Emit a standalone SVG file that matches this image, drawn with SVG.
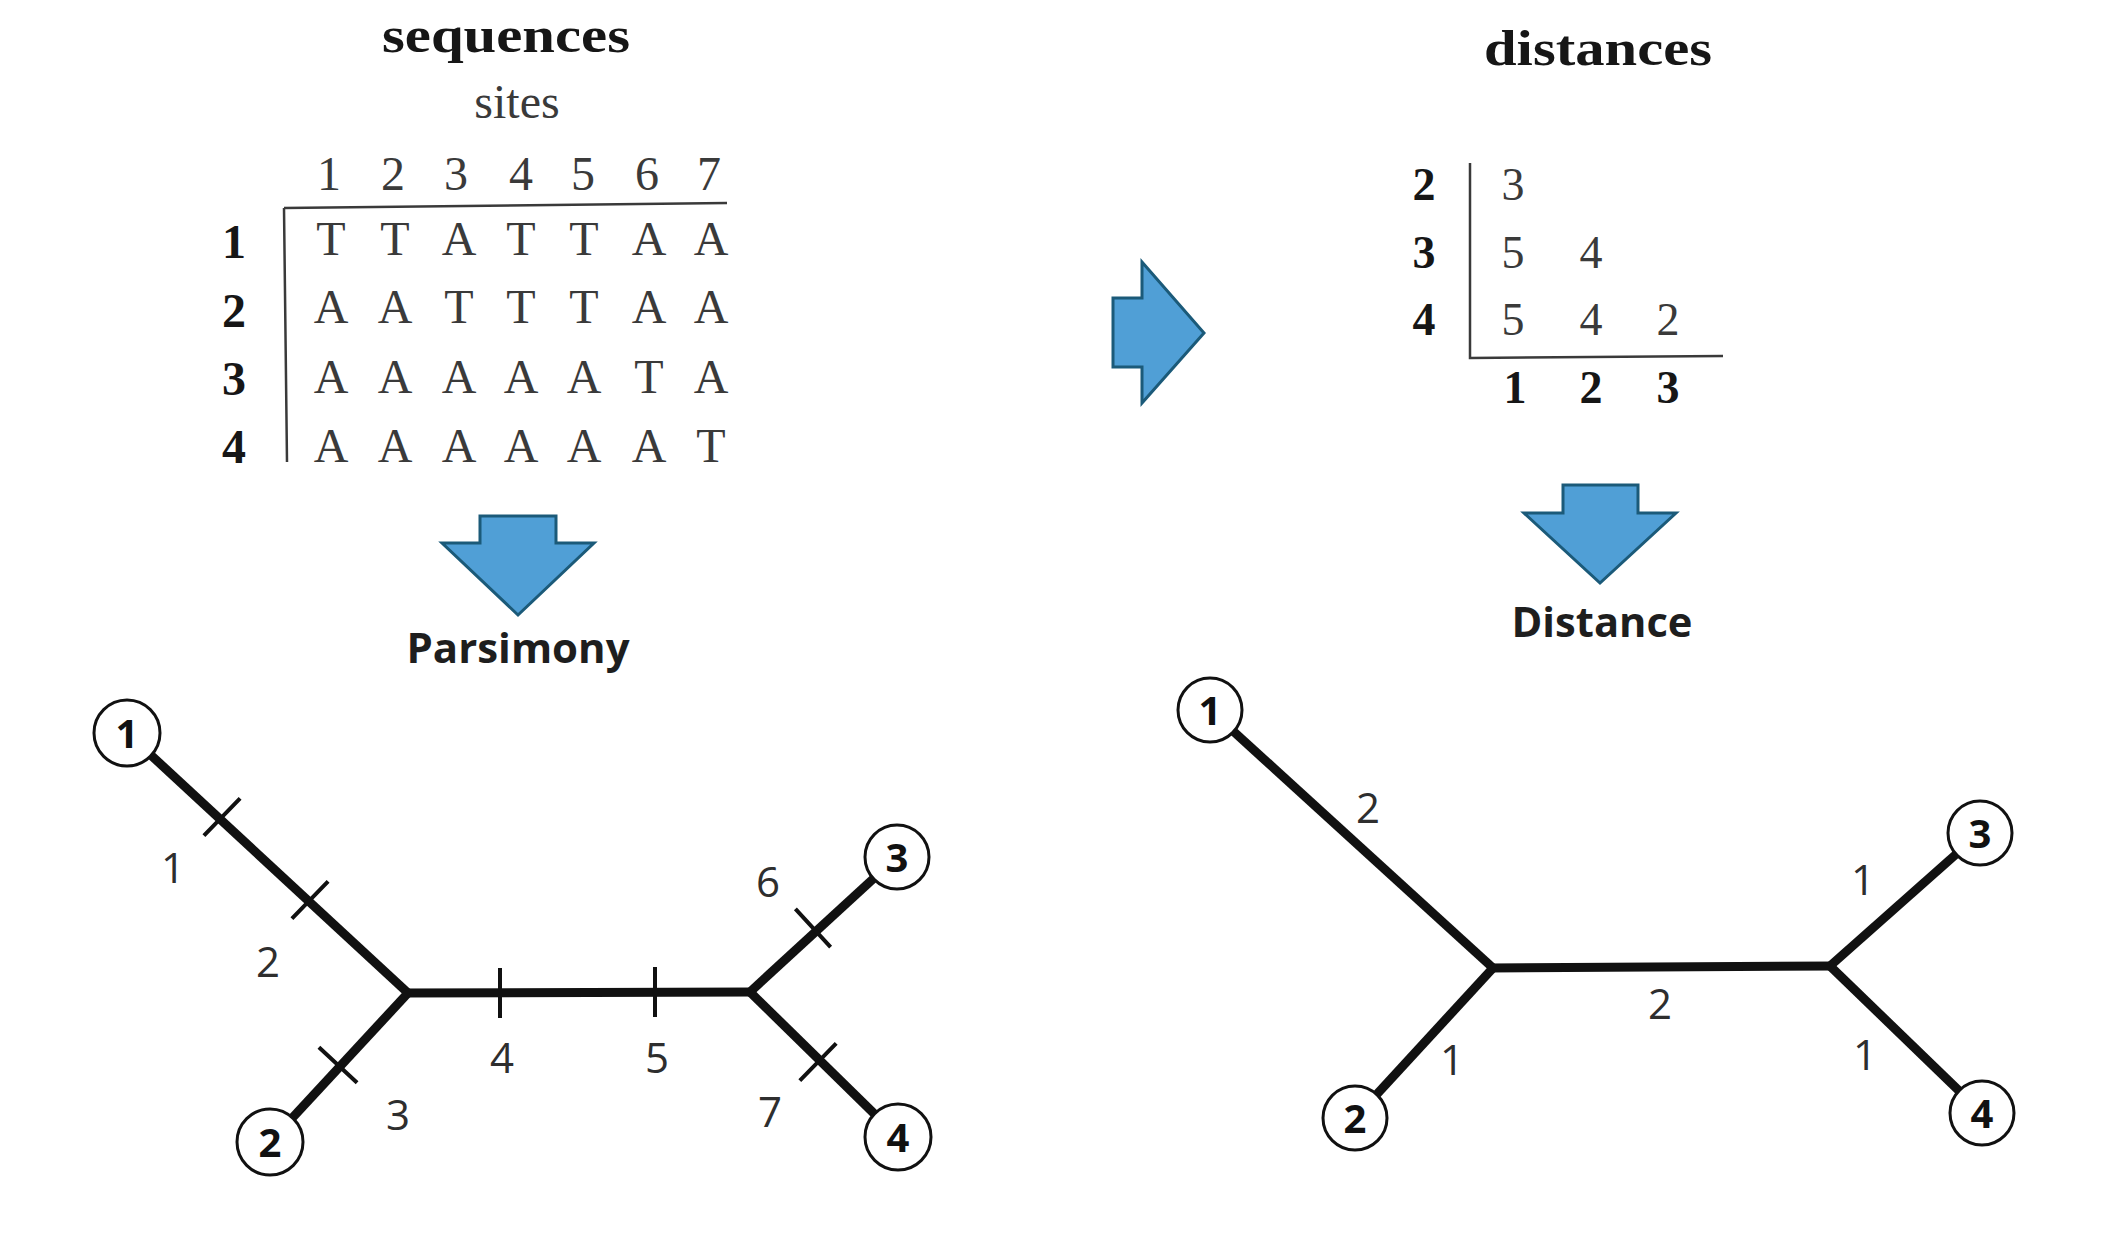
<svg xmlns="http://www.w3.org/2000/svg" width="2126" height="1237" viewBox="0 0 2126 1237">
<style>
.ser{font-family:"Liberation Serif","Times New Roman",serif;fill:#3a3a3a;text-anchor:middle}
.serb{font-family:"Liberation Serif","Times New Roman",serif;font-weight:bold;fill:#161616;text-anchor:middle}
.big{font-size:50px}
.tb{font-size:48px}
.dm{font-size:46px}
.lbl{font-family:"Open Sans","DejaVu Sans",sans-serif;font-size:42px;fill:#2e2e2e;text-anchor:middle}
.cap{font-family:"Open Sans","DejaVu Sans",sans-serif;font-weight:bold;font-size:42px;fill:#1e1e1e;text-anchor:middle}
.nd{font-family:"Open Sans","DejaVu Sans",sans-serif;font-weight:bold;font-size:40px;fill:#111;text-anchor:middle}
.rule{stroke:#3a3a3a;stroke-width:2.5;fill:none}
.arr{fill:#509fd6;stroke:#1b5a79;stroke-width:3;stroke-linejoin:miter}
.br{stroke:#111;stroke-width:9;fill:none;stroke-linecap:butt}
.tk{stroke:#111;stroke-width:4;fill:none}
.circ{fill:#fff;stroke:#111;stroke-width:3}
</style>
<rect width="2126" height="1237" fill="#fff"/>

<g id="sequences-table">
<text class="serb big" x="506" y="52" textLength="248" lengthAdjust="spacingAndGlyphs">sequences</text>
<text class="ser tb" x="517" y="118" fill="#444">sites</text>
<g class="ser tb">
<text x="329" y="190">1</text><text x="393" y="190">2</text><text x="456" y="190">3</text><text x="521" y="190">4</text><text x="583" y="190">5</text><text x="647" y="190">6</text><text x="709" y="190">7</text>
</g>
<path class="rule" d="M284 208 L727 203 M284 208 L287 462"/>
<g class="serb tb">
<text x="234" y="258">1</text><text x="234" y="327">2</text><text x="234" y="395">3</text><text x="234" y="463">4</text>
</g>
<g class="ser tb">
<text x="331" y="255">T</text><text x="395" y="255">T</text><text x="459" y="255">A</text><text x="521" y="255">T</text><text x="584" y="255">T</text><text x="649" y="255">A</text><text x="711" y="255">A</text>
<text x="331" y="323">A</text><text x="395" y="323">A</text><text x="459" y="323">T</text><text x="521" y="323">T</text><text x="584" y="323">T</text><text x="649" y="323">A</text><text x="711" y="323">A</text>
<text x="331" y="393">A</text><text x="395" y="393">A</text><text x="459" y="393">A</text><text x="521" y="393">A</text><text x="584" y="393">A</text><text x="649" y="393">T</text><text x="711" y="393">A</text>
<text x="331" y="462">A</text><text x="395" y="462">A</text><text x="459" y="462">A</text><text x="521" y="462">A</text><text x="584" y="462">A</text><text x="649" y="462">A</text><text x="711" y="462">T</text>
</g>
</g>

<g id="distances-table">
<text class="serb big" x="1598" y="65" textLength="228" lengthAdjust="spacingAndGlyphs">distances</text>
<path class="rule" d="M1470 163 L1470 358 L1723 356"/>
<g class="serb dm">
<text x="1424" y="200">2</text><text x="1424" y="268">3</text><text x="1424" y="335">4</text>
<text x="1515" y="403">1</text><text x="1591" y="403">2</text><text x="1668" y="403">3</text>
</g>
<g class="ser dm">
<text x="1513" y="200">3</text>
<text x="1513" y="268">5</text><text x="1591" y="268">4</text>
<text x="1513" y="335">5</text><text x="1591" y="335">4</text><text x="1668" y="335">2</text>
</g>
</g>

<g id="arrows">
<polygon id="arrow-right" class="arr" points="1113,298 1142,298 1142,262 1204,333 1142,403 1142,367 1113,367"/>
<polygon id="arrow-parsimony" class="arr" points="480,516 556,516 556,543 594,543 518,615 442,543 480,543"/>
<polygon id="arrow-distance" class="arr" points="1563,485 1638,485 1638,513 1676,513 1600,583 1524,513 1563,513"/>
</g>

<text id="label-parsimony" class="cap" x="518" y="663" textLength="223" lengthAdjust="spacingAndGlyphs">Parsimony</text>
<text id="label-distance" class="cap" x="1602" y="637" textLength="181" lengthAdjust="spacingAndGlyphs">Distance</text>

<g id="connectors">
<g id="parsimony-branches">
<path class="br" d="M408 993 L127 733"/>
<path class="br" d="M408 993 L270 1142"/>
<path class="br" d="M404 993 L754 992"/>
<path class="br" d="M750 992 L897 857"/>
<path class="br" d="M750 992 L898 1137"/>
<path class="tk" d="M240.1 798.3 L203.9 835.7 M328.1 881.3 L291.9 918.7 M357.1 1082.7 L318.9 1047.3 M500 968 L500 1018 M655 967 L655 1017 M830.6 947.2 L795.4 908.8 M836.2 1043.4 L799.8 1080.6"/>
</g>
<g id="distance-branches">
<path class="br" d="M1493 968 L1210 710"/>
<path class="br" d="M1493 968 L1355 1118"/>
<path class="br" d="M1489 968 L1834 966"/>
<path class="br" d="M1830 966 L1980 833"/>
<path class="br" d="M1830 966 L1982 1113"/>
</g>
</g>

<g id="branch-labels">
<g class="lbl">
<text x="173" y="883">1</text><text x="268" y="977">2</text><text x="398" y="1130">3</text><text x="502" y="1073">4</text><text x="657" y="1073">5</text><text x="768" y="897">6</text><text x="770" y="1127">7</text>
<text x="1368" y="823">2</text><text x="1452" y="1075">1</text><text x="1660" y="1019">2</text><text x="1863" y="895">1</text><text x="1865" y="1070">1</text>
</g>
</g>

<g id="p-node-1"><circle class="circ" cx="127" cy="733" r="33"/><text class="nd" x="127" y="748">1</text></g>
<g id="p-node-2"><circle class="circ" cx="270" cy="1142" r="33"/><text class="nd" x="270" y="1157">2</text></g>
<g id="p-node-3"><circle class="circ" cx="897" cy="857" r="32"/><text class="nd" x="897" y="872">3</text></g>
<g id="p-node-4"><circle class="circ" cx="898" cy="1137" r="33"/><text class="nd" x="898" y="1152">4</text></g>
<g id="d-node-1"><circle class="circ" cx="1210" cy="710" r="32"/><text class="nd" x="1210" y="725">1</text></g>
<g id="d-node-2"><circle class="circ" cx="1355" cy="1118" r="32"/><text class="nd" x="1355" y="1133">2</text></g>
<g id="d-node-3"><circle class="circ" cx="1980" cy="833" r="32"/><text class="nd" x="1980" y="848">3</text></g>
<g id="d-node-4"><circle class="circ" cx="1982" cy="1113" r="32"/><text class="nd" x="1982" y="1128">4</text></g>
</svg>
